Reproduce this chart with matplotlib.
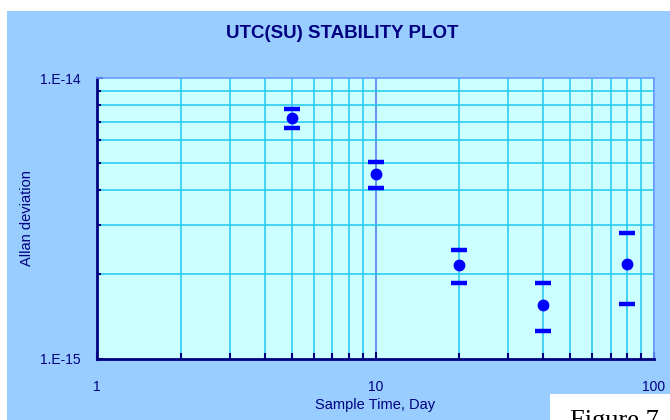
import matplotlib
matplotlib.use("Agg")
import matplotlib.pyplot as plt
from matplotlib.patches import Rectangle
from matplotlib.ticker import LogLocator, FixedLocator, NullFormatter

# data
tau = [5, 10, 20, 40, 80]
adev = [7.2e-15, 4.54e-15, 2.16e-15, 1.56e-15, 2.18e-15]
adev_hi = [7.74e-15, 5.04e-15, 2.44e-15, 1.865e-15, 2.80e-15]
adev_lo = [6.64e-15, 4.05e-15, 1.865e-15, 1.26e-15, 1.567e-15]

xticks = [1, 10, 100]
xticklabels = ["1", "10", "100"]
yticks = [1e-15, 1e-14]
yticklabels = ["1.E-15", "1.E-14"]

navy = "#000080"
plt.rcParams["font.family"] = ["Liberation Sans", "DejaVu Sans"]

fig = plt.figure(figsize=(6.7, 4.2), dpi=100, facecolor="white")
# light blue panel behind the chart
fig.patches.append(Rectangle((7 / 670, 0), 1, (420 - 11) / 420, transform=fig.transFigure,
                             facecolor="#99CCFF", edgecolor="none", zorder=0))

ax = fig.add_axes([97 / 670, 61 / 420, 557 / 670, 281 / 420])
ax.set_zorder(2)
ax.set_facecolor("#CCFFFF")
ax.set_xscale("log")
ax.set_yscale("log")
ax.set_xlim(1, 100)
ax.set_ylim(1e-15, 1e-14)

# grid
ax.xaxis.set_minor_locator(LogLocator(base=10, subs=range(2, 10)))
ax.yaxis.set_minor_locator(LogLocator(base=10, subs=range(2, 10)))
ax.xaxis.set_minor_formatter(NullFormatter())
ax.yaxis.set_minor_formatter(NullFormatter())
ax.grid(True, which="minor", color="#1EC8F0", linewidth=1.1)
ax.grid(True, which="major", axis="x", color="#4A78F0", linewidth=1.1)
ax.set_axisbelow(True)

ax.xaxis.set_major_locator(FixedLocator(xticks))
ax.set_xticklabels(xticklabels)
ax.yaxis.set_major_locator(FixedLocator(yticks))
ax.set_yticklabels(yticklabels)

ax.tick_params(which="both", direction="in", color=navy, labelcolor=navy, labelsize=10)
ax.tick_params(axis="x", which="major", length=5, width=1.5, pad=15)
ax.tick_params(axis="x", which="minor", length=4, width=1.5)
ax.tick_params(axis="y", which="major", length=4, width=1.5, pad=12)
ax.tick_params(axis="y", which="minor", length=3, width=1.5)

for side in ["left", "bottom"]:
    ax.spines[side].set_color(navy)
    ax.spines[side].set_linewidth(2)
for side in ["top", "right"]:
    ax.spines[side].set_color("#6A9BFF")
    ax.spines[side].set_linewidth(1.2)

# points and error caps
ax.plot(tau, adev, "o", color="#0000FF", markersize=7.5, zorder=5)
ax.plot(tau, adev_hi, "_", color="#0000FF", markersize=11.5, markeredgewidth=3.2, zorder=5)
ax.plot(tau, adev_lo, "_", color="#0000FF", markersize=11.5, markeredgewidth=3.2, zorder=5)

ax.set_xlabel("Sample Time, Day", color=navy, fontsize=10.5)
ax.set_ylabel("Allan deviation", color=navy, fontsize=10.5)
ax.xaxis.set_label_coords(0.5, -(405 - 359) / 281)
ax.yaxis.set_label_coords(-(97 - 27) / 557, 0.5)
ax.xaxis.label.set_va("center")
ax.yaxis.label.set_va("center")

fig.text(342 / 670, 1 - 34 / 420, "UTC(SU) STABILITY PLOT", color=navy, fontsize=13.5,
         fontweight="bold", ha="center", va="center")

# white caption box at the bottom right
cap_box = Rectangle((550 / 670, 0), 1, 26 / 420, transform=fig.transFigure,
                    facecolor="white", edgecolor="none", zorder=3)
fig.patches.append(cap_box)
fig.text(570 / 670, -7 / 420, "Figure 7", family="Liberation Serif", fontsize=19,
         color="black", ha="left", va="baseline", zorder=4)

fig.savefig("out.png", dpi=100, facecolor=fig.get_facecolor())
